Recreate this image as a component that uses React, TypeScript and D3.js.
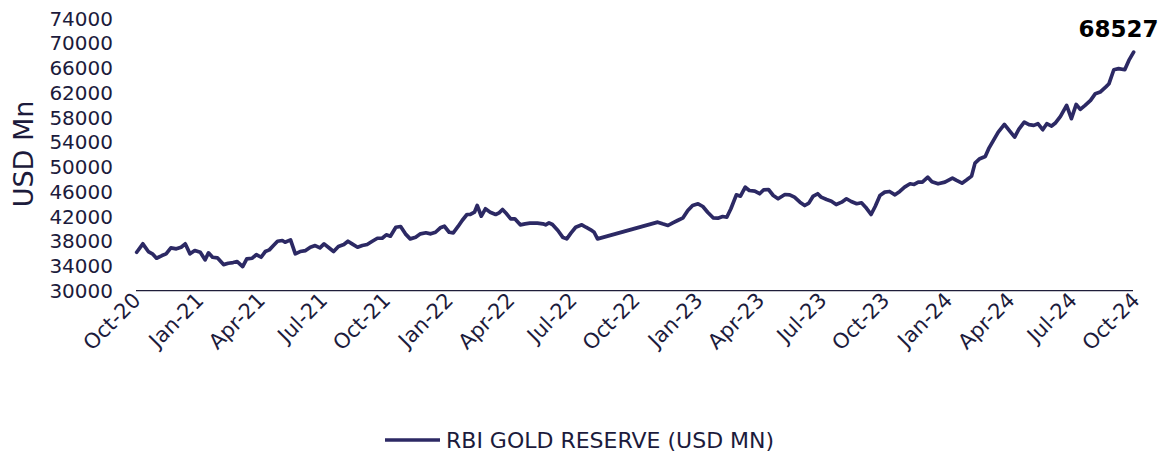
import React from "react";
import * as d3 from "d3";

const dates: string[] = [
  "2020-10-02","2020-10-11","2020-10-19","2020-10-25","2020-10-31","2020-11-08","2020-11-14","2020-11-21","2020-11-29","2020-12-06",
  "2020-12-12","2020-12-19","2020-12-26","2021-01-03","2021-01-10","2021-01-15","2021-01-21","2021-01-28","2021-02-06","2021-02-13",
  "2021-02-20","2021-02-26","2021-03-06","2021-03-12","2021-03-20","2021-03-26","2021-04-02","2021-04-08","2021-04-14","2021-04-20",
  "2021-04-26","2021-05-03","2021-05-07","2021-05-15","2021-05-22","2021-05-29","2021-06-06","2021-06-13","2021-06-20","2021-06-27",
  "2021-07-03","2021-07-11","2021-07-17","2021-07-24","2021-08-01","2021-08-07","2021-08-13","2021-08-21","2021-08-28","2021-09-04",
  "2021-09-11","2021-09-19","2021-09-26","2021-10-02","2021-10-08","2021-10-16","2021-10-23","2021-10-30","2021-11-06","2021-11-14",
  "2021-11-21","2021-11-29","2021-12-06","2021-12-13","2021-12-20","2021-12-26","2022-01-02","2022-01-08","2022-01-15","2022-01-21",
  "2022-01-28","2022-02-02","2022-02-08","2022-02-12","2022-02-18","2022-02-24","2022-03-03","2022-03-11","2022-03-16","2022-03-21",
  "2022-03-27","2022-04-02","2022-04-08","2022-04-16","2022-04-23","2022-04-30","2022-05-11","2022-05-19","2022-05-23","2022-05-28",
  "2022-06-02","2022-06-10","2022-06-17","2022-06-23","2022-06-29","2022-07-06","2022-07-15","2022-07-21","2022-07-28","2022-08-02",
  "2022-08-07","2022-11-03","2022-11-10","2022-11-18","2022-11-25","2022-12-02","2022-12-10","2022-12-17","2022-12-24","2023-01-01",
  "2023-01-08","2023-01-15","2023-01-23","2023-01-30","2023-02-06","2023-02-12","2023-02-18","2023-02-26","2023-03-04","2023-03-11",
  "2023-03-17","2023-03-25","2023-04-01","2023-04-07","2023-04-14","2023-04-21","2023-04-28","2023-05-08","2023-05-15","2023-05-22",
  "2023-05-30","2023-06-06","2023-06-12","2023-06-18","2023-06-25","2023-06-30","2023-07-08","2023-07-15","2023-07-22","2023-07-30",
  "2023-08-06","2023-08-13","2023-08-21","2023-08-28","2023-09-03","2023-09-11","2023-09-17","2023-09-24","2023-10-01","2023-10-08",
  "2023-10-16","2023-10-23","2023-10-30","2023-11-07","2023-11-13","2023-11-19","2023-11-25","2023-12-03","2023-12-09","2023-12-18",
  "2023-12-28","2024-01-08","2024-01-14","2024-01-22","2024-01-29","2024-02-05","2024-02-10","2024-02-17","2024-02-25","2024-03-01",
  "2024-03-08","2024-03-15","2024-03-24","2024-03-31","2024-04-08","2024-04-14","2024-04-22","2024-04-29","2024-05-06","2024-05-12",
  "2024-05-19","2024-05-25","2024-06-01","2024-06-07","2024-06-14","2024-06-23","2024-06-30","2024-07-07","2024-07-13","2024-07-20",
  "2024-07-28","2024-08-04","2024-08-11","2024-08-19","2024-08-24","2024-08-31","2024-09-07","2024-09-16","2024-09-22","2024-09-29",
];

const goldReserve: number[] = [
  36200,37560,36310,35940,35230,35660,35940,36910,36750,37010,
  37560,35940,36470,36200,34970,36100,35390,35290,34200,34420,
  34530,34690,33880,35130,35230,35820,35390,36310,36580,37280,
  37980,38090,37820,38200,35940,36310,36470,37010,37280,36910,
  37560,36840,36310,37120,37440,37980,37560,37010,37280,37440,
  37930,38460,38460,39010,38790,40240,40360,39170,38360,38630,
  39170,39340,39170,39430,40150,40400,39430,39340,40360,41330,
  42300,42300,42670,43750,42020,43220,42670,42300,42570,43100,
  42410,41600,41600,40630,40790,40890,40890,40790,40630,40950,
  40680,39710,38630,38360,39280,40240,40630,40240,39820,39430,
  38360,41060,40790,40520,40950,41330,41760,42940,43750,44030,
  43590,42670,41760,41700,41970,41860,43220,45480,45260,46710,
  46180,46070,45650,46290,46340,45370,44840,45530,45480,45100,
  44290,43750,44130,45210,45650,45100,44720,44450,43910,44290,
  44840,44400,44030,44190,43480,42300,43590,45370,45910,46020,
  45480,46020,46710,47260,47150,47520,47520,48330,47600,47260,
  47520,48170,47800,47360,47910,48500,50600,51310,51680,52930,
  54270,55610,56860,55890,54810,56050,57230,56810,56700,56970,
  56000,56970,56590,57130,58150,59930,57780,60090,59280,59930,
  60740,61820,62080,62890,63430,65690,65860,65690,67200,68527,
];

const yTicks: number[] = [30000,34000,38000,42000,46000,50000,54000,58000,62000,66000,70000,74000];
const xTickDates: string[] = [
  "2020-10-01","2021-01-01","2021-04-01","2021-07-01","2021-10-01","2022-01-01","2022-04-01","2022-07-01",
  "2022-10-01","2023-01-01","2023-04-01","2023-07-01","2023-10-01","2024-01-01","2024-04-01","2024-07-01","2024-10-01",
];
const seriesName = "RBI GOLD RESERVE (USD MN)";
const yTitle = "USD Mn";
const lastLabel = "68527";

const FONT = "'DejaVu Sans', sans-serif";
const LINE = "#2c2964";
const TEXT = "#1c1b3c";

export default function App() {
  const W = 1160, H = 454;
  const parse = d3.utcParse("%Y-%m-%d");
  const fmt = d3.utcFormat("%b-%y");
  const data = dates.map((d, i) => ({ date: parse(d) as Date, value: goldReserve[i] }));

  const x = d3.scaleUtc()
    .domain([parse("2020-10-01") as Date, parse("2024-10-01") as Date])
    .range([136, 1135]);
  const y = d3.scaleLinear().domain([30000, 74000]).range([290.6, 18.3]);

  const line = d3.line<{ date: Date; value: number }>()
    .x((d) => x(d.date))
    .y((d) => y(d.value));

  const last = data[data.length - 1];

  return (
    <svg width={W} height={H} style={{ position: "absolute", left: 0, top: 0, background: "#fff" }}
      fontFamily={FONT}>
      {yTicks.map((t) => (
        <text key={t} x={113} y={y(t)} dy="0.36em" textAnchor="end" fontSize={20} fill={TEXT}>
          {t}
        </text>
      ))}
      <text transform={`translate(33,154) rotate(-90)`} textAnchor="middle" fontSize={27} fill={TEXT}>
        {yTitle}
      </text>
      <line x1={x.range()[0]} x2={x.range()[1] - 2} y1={y(30000)} y2={y(30000)} stroke="#1f1d3a" strokeWidth={1.3} />
      {xTickDates.map((s) => {
        const dt = parse(s) as Date;
        const px = x(dt);
        return (
          <text key={s} transform={`translate(${px + 6},${y(30000) + 11}) rotate(-45)`} textAnchor="end"
            fontSize={21} fill={TEXT}>
            {fmt(dt)}
          </text>
        );
      })}
      <path d={line(data) || ""} fill="none" stroke={LINE} strokeWidth={3.7} strokeLinejoin="round" strokeLinecap="round" />
      <text x={x(last.date) - 15} y={37} textAnchor="middle" fontSize={23} fontWeight="bold" fill="#000">
        {lastLabel}
      </text>
      <line x1={385} x2={440} y1={440} y2={440} stroke={LINE} strokeWidth={3.7} />
      <text x={446} y={448} fontSize={22} fill={TEXT}>{seriesName}</text>
    </svg>
  );
}
